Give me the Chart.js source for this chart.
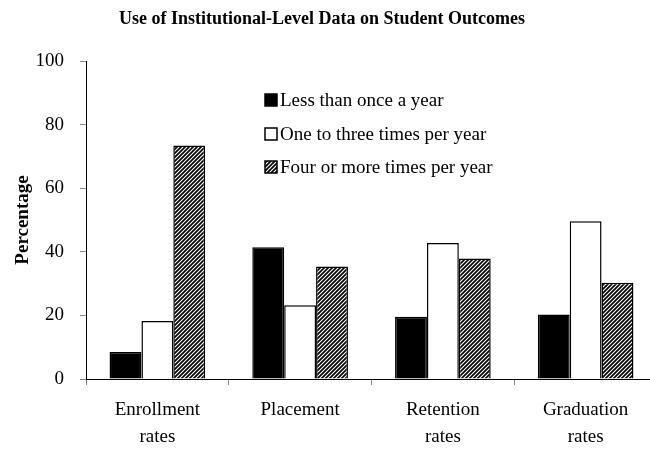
<!DOCTYPE html>
<html>
<head>
<meta charset="utf-8">
<script src="https://cdn.jsdelivr.net/npm/chart.js@4"></script>
<style>
  html, body { margin: 0; padding: 0; background: #fff; overflow: hidden; }
  #wrap { width: 650px; height: 456px; overflow: hidden; }
</style>
</head>
<body>
<div id="wrap"><canvas id="outcomesChart" width="660" height="456"></canvas></div>
<script>
// data
const titleText = 'Use of Institutional-Level Data on Student Outcomes';
const categories = [['Enrollment', 'rates'], 'Placement', ['Retention', 'rates'], ['Graduation', 'rates']];
const seriesNames = ['Less than once a year', 'One to three times per year', 'Four or more times per year'];
const lessThanOnce = [8.5, 41.4, 19.6, 20.3];
const oneToThree = [18.2, 23.2, 42.8, 49.6];
const fourOrMore = [73.4, 35.4, 37.9, 30.3];
const yTicks = [0, 20, 40, 60, 80, 100];

const FONT = '"Liberation Serif", "Times New Roman", serif';

// diagonal hatch for the third series
function makeHatch() {
    const c = document.createElement('canvas');
    c.width = 4; c.height = 4;
    const g = c.getContext('2d');
    g.fillStyle = '#fff';
    g.fillRect(0, 0, 4, 4);
    g.strokeStyle = '#000';
    g.lineWidth = 1.7;
    g.beginPath();
    g.moveTo(-1, 5); g.lineTo(5, -1);
    g.moveTo(-1, 1); g.lineTo(1, -1);
    g.moveTo(3, 5); g.lineTo(5, 3);
    g.stroke();
    return g.createPattern(c, 'repeat');
}
const hatch = makeHatch();

// title drawn centred on the visible 650px page
const titlePlugin = {
    id: 'pageTitle',
    afterDraw(chart) {
        const ctx = chart.ctx;
        ctx.save();
        ctx.font = 'bold 18px ' + FONT;
        ctx.fillStyle = '#000';
        ctx.textAlign = 'center';
        ctx.textBaseline = 'middle';
        ctx.fillText(titleText, 322, 19);
        ctx.restore();
    }
};

// legend sits inside the plot area
const innerLegend = {
    id: 'innerLegend',
    afterDraw(chart) {
        const ctx = chart.ctx;
        const rows = [100, 134, 167];
        ctx.save();
        ctx.font = '19px ' + FONT;
        ctx.textBaseline = 'middle';
        chart.data.datasets.forEach((ds, i) => {
            const y = rows[i];
            ctx.fillStyle = ds.backgroundColor;
            ctx.fillRect(265, y - 6, 12, 12);
            ctx.strokeStyle = '#000';
            ctx.lineWidth = 1.5;
            ctx.strokeRect(265, y - 6, 12, 12);
            ctx.fillStyle = '#000';
            ctx.fillText(ds.label, 280, y + 1);
        });
        ctx.restore();
    }
};

const ctx = document.getElementById('outcomesChart').getContext('2d');
new Chart(ctx, {
    type: 'bar',
    data: {
        labels: categories,
        datasets: [
            { label: seriesNames[0], data: lessThanOnce, backgroundColor: '#000', borderColor: '#000', borderWidth: 1.5 },
            { label: seriesNames[1], data: oneToThree, backgroundColor: '#fff', borderColor: '#000', borderWidth: 1.5 },
            { label: seriesNames[2], data: fourOrMore, backgroundColor: hatch, borderColor: '#000', borderWidth: 1.5 }
        ]
    },
    options: {
        responsive: false,
        animation: false,
        layout: { padding: { top: 61, right: 3, left: 0, bottom: 0 } },
        datasets: { bar: { categoryPercentage: 0.67, barPercentage: 1.0 } },
        scales: {
            x: {
                grid: { display: true, offset: true, drawOnChartArea: false, tickLength: 6, color: '#888' },
                border: { color: '#000', width: 1 },
                ticks: { color: '#000', font: { family: FONT, size: 19, lineHeight: 1.4 }, padding: 12, maxRotation: 0, autoSkip: false },
                afterFit(s) { s.height = 77; }
            },
            y: {
                min: 0,
                max: 100,
                afterBuildTicks(s) { s.ticks = yTicks.map(v => ({ value: v })); },
                grid: { display: true, drawOnChartArea: false, tickLength: 6, color: '#888' },
                border: { color: '#000', width: 1 },
                ticks: { color: '#000', font: { family: FONT, size: 19 }, padding: 16 },
                title: { display: true, text: 'Percentage', color: '#000', font: { family: FONT, size: 19, weight: 'bold' }, padding: { top: 12, bottom: 0 } },
                afterFit(s) { s.width = 86; }
            }
        },
        plugins: {
            legend: { display: false },
            title: { display: false },
            tooltip: { enabled: false }
        }
    },
    plugins: [titlePlugin, innerLegend]
});
</script>
</body>
</html>
